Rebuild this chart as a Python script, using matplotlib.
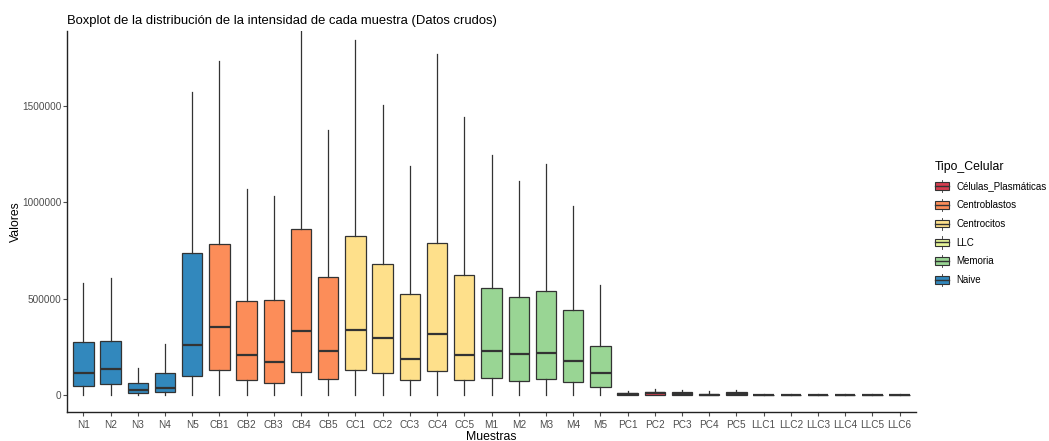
import matplotlib
matplotlib.use("Agg")
import matplotlib.pyplot as plt
from matplotlib.patches import Patch, Rectangle
from matplotlib.lines import Line2D
from matplotlib.legend_handler import HandlerBase

plt.rcParams['font.family'] = ['Liberation Sans', 'DejaVu Sans']

# Sample names and their cell type
muestras = ["N1", "N2", "N3", "N4", "N5",
            "CB1", "CB2", "CB3", "CB4", "CB5",
            "CC1", "CC2", "CC3", "CC4", "CC5",
            "M1", "M2", "M3", "M4", "M5",
            "PC1", "PC2", "PC3", "PC4", "PC5",
            "LLC1", "LLC2", "LLC3", "LLC4", "LLC5", "LLC6"]
tipo = (["Naive"] * 5 + ["Centroblastos"] * 5 + ["Centrocitos"] * 5 +
        ["Memoria"] * 5 + ["Células_Plasmáticas"] * 5 + ["LLC"] * 6)

# Five-number summaries per sample (raw intensities)
whisker_low = [0] * 31
q1 = [47000, 57000, 10000, 16000, 100000,
      131000, 78000, 64000, 121000, 85000,
      133000, 117000, 78000, 126000, 78000,
      92000, 76000, 85000, 69000, 43000,
      2000, 3000, 2000, 1500, 2500,
      500, 500, 500, 500, 500, 500]
mediana = [117000, 138000, 28000, 36000, 259000,
           354000, 211000, 174000, 336000, 231000,
           340000, 295000, 186000, 318000, 207000,
           231000, 212000, 221000, 180000, 117000,
           7000, 10000, 8000, 4000, 9000,
           1500, 1500, 1500, 1500, 1500, 1500]
q3 = [276000, 280000, 62000, 116000, 735000,
      782000, 487000, 495000, 861000, 614000,
      828000, 678000, 523000, 789000, 621000,
      557000, 512000, 540000, 442000, 256000,
      14000, 20000, 16000, 8000, 18000,
      3000, 3000, 3000, 3000, 3000, 3000]
whisker_high = [580000, 607000, 142000, 268000, 1572000,
                1731000, 1070000, 1034000, 1890000, 1372000,
                1841000, 1505000, 1189000, 1767000, 1441000,
                1244000, 1110000, 1196000, 980000, 571000,
                24000, 33000, 28000, 21000, 29000,
                6000, 6000, 6000, 6000, 6000, 6000]

niveles = ["Células_Plasmáticas", "Centroblastos", "Centrocitos",
           "LLC", "Memoria", "Naive"]
colores = {"Células_Plasmáticas": "#D53E4F", "Centroblastos": "#FC8D59",
           "Centrocitos": "#FEE08B", "LLC": "#E6F598",
           "Memoria": "#99D594", "Naive": "#3288BD"}

yticks = [0, 500000, 1000000, 1500000]

fig = plt.figure(figsize=(10.49, 4.41), dpi=100)
ax = fig.add_axes([67 / 1049, 1 - 412 / 441, (916 - 67) / 1049, (412 - 31) / 441])

stats = []
for i in range(len(muestras)):
    stats.append(dict(whislo=whisker_low[i], q1=q1[i], med=mediana[i],
                      q3=q3[i], whishi=whisker_high[i], fliers=[],
                      label=muestras[i]))

edge = "#333333"
bp = ax.bxp(stats, positions=range(len(muestras)), widths=0.75,
            patch_artist=True, showfliers=False, showcaps=False,
            boxprops=dict(edgecolor=edge, linewidth=0.9),
            medianprops=dict(color=edge, linewidth=1.6),
            whiskerprops=dict(color=edge, linewidth=0.9))
for patch, t in zip(bp["boxes"], tipo):
    patch.set_facecolor(colores[t])

ax.set_xlim(-0.6, len(muestras) - 1 + 0.6)
ax.set_ylim(-86000, 1887000)
ax.set_xticks(range(len(muestras)))
ax.set_xticklabels(muestras)
ax.set_yticks(yticks)
ax.set_yticklabels([str(v) for v in yticks])
ax.tick_params(axis="both", labelsize=7.2, colors="#4D4D4D", length=3,
               width=0.8, labelcolor="#4D4D4D")
ax.tick_params(axis="y", pad=0.8)
ax.tick_params(axis="x", pad=2.5)
for s in ["top", "right"]:
    ax.spines[s].set_visible(False)
for s in ["left", "bottom"]:
    ax.spines[s].set_color("#222222")
    ax.spines[s].set_linewidth(1.0)

ax.set_xlabel("Muestras", fontsize=8.8, labelpad=1)
ax.set_ylabel("Valores", fontsize=8.8, labelpad=0.5)
ax.set_title("Boxplot de la distribución de la intensidad de cada muestra (Datos crudos)",
             fontsize=9.4, loc="left", pad=5)


class BoxKey(HandlerBase):
    def create_artists(self, legend, orig_handle, xdescent, ydescent,
                       width, height, fontsize, trans):
        fc = orig_handle.get_facecolor()
        cx = width / 2 - xdescent
        rect = Rectangle((-xdescent, -ydescent + height * 0.1), width, height * 0.8,
                         facecolor=fc, edgecolor=edge, linewidth=0.8, transform=trans)
        med = Line2D([-xdescent, width - xdescent],
                     [-ydescent + height / 2] * 2, color=edge, linewidth=1.0,
                     transform=trans)
        w1 = Line2D([cx, cx], [-ydescent - height * 0.15, -ydescent + height * 0.1],
                    color=edge, linewidth=0.6, transform=trans)
        w2 = Line2D([cx, cx], [-ydescent + height * 0.9, -ydescent + height * 1.15],
                    color=edge, linewidth=0.6, transform=trans)
        return [rect, med, w1, w2]


handles = [Patch(facecolor=colores[n], label=n) for n in niveles]
leg = fig.legend(handles=handles, loc="upper left",
                 bbox_to_anchor=(926 / 1049, 1 - 152 / 441),
                 frameon=False, fontsize=7, title="Tipo_Celular",
                 title_fontsize=8.8, handler_map={Patch: BoxKey()},
                 handlelength=1.45, handleheight=1.1, handletextpad=0.75,
                 labelspacing=0.9)
leg._legend_box.align = "left"

fig.savefig("out.png", dpi=100)
